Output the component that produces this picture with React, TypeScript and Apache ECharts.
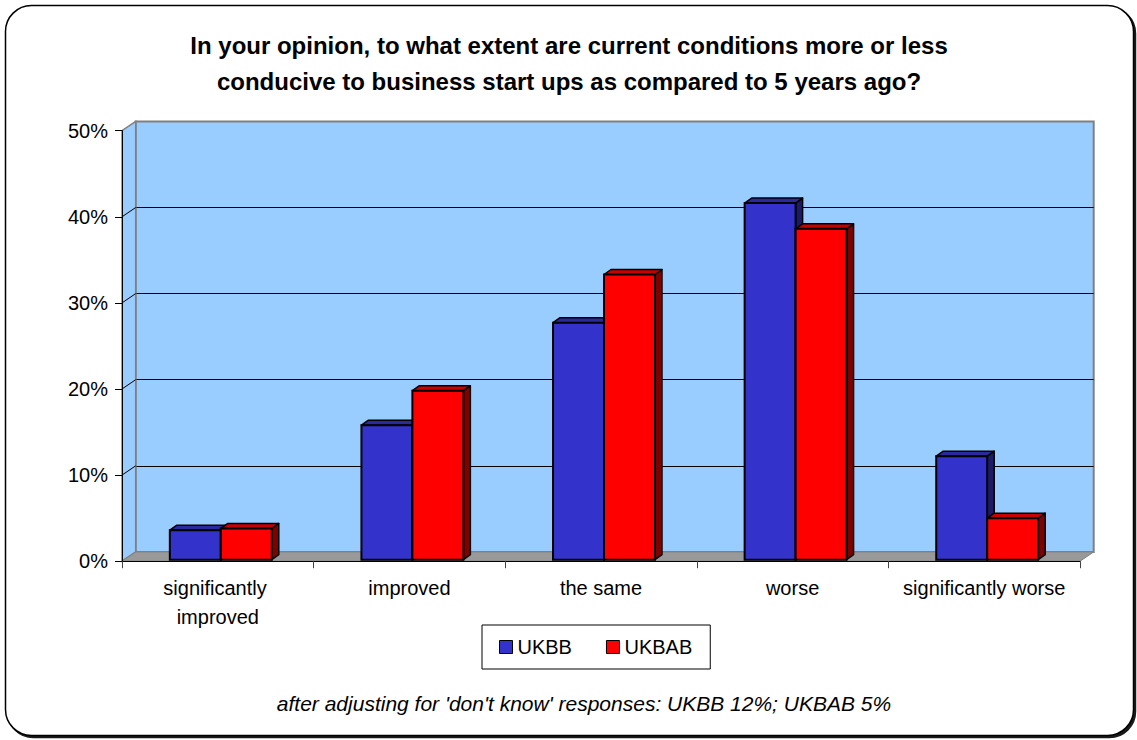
import { useEffect, useRef } from 'react';
import * as echarts from 'echarts';

// ---- data ----
const categories = ['significantly improved', 'improved', 'the same', 'worse', 'significantly worse'];
const seriesNames = ['UKBB', 'UKBAB'];
const ukbb = [3.6, 15.8, 27.7, 41.6, 12.2];
const ukbab = [3.8, 19.8, 33.3, 38.6, 5.0];
const yTicks = [0, 10, 20, 30, 40, 50];

const titleText =
  'In your opinion, to what extent are current conditions more or less\nconducive to business start ups as compared to 5 years ago?';
const footnoteText = "after adjusting for 'don't know' responses: UKBB 12%; UKBAB 5%";

// ---- style ----
const FONT = '"Liberation Sans", Arial, Helvetica, sans-serif';
const WALL = '#99ccff';
const WALL_EDGE = '#808080';
const FLOOR = '#999999';
const COLORS = [
  { front: '#3333cc', top: '#2a2a9c', side: '#1c1c66' },
  { front: '#ff0000', top: '#c80000', side: '#800000' },
];

// perspective offset of the back wall relative to the front plane
const WALL_DX = 13.7;
const WALL_DY = -9.3;
// depth of each column
const BAR_DX = 7;
const BAR_DY = -5;
const BAR_RATIO = 0.266;
const CLUSTER_SHIFT = 3;

const FRONT = { left: 122, top: 130.7, width: 958, height: 430.5 };
const BACK = { left: FRONT.left + WALL_DX, top: FRONT.top + WALL_DY, width: FRONT.width, height: FRONT.height };

function frameRenderer(params: any, api: any) {
  const cs = params.coordSys;
  const x0 = cs.x;
  const y0 = cs.y;
  const x1 = cs.x + cs.width;
  const y1 = cs.y + cs.height;
  const children: any[] = [
    {
      type: 'polygon',
      shape: { points: [[x0, y0], [x0 + WALL_DX, y0 + WALL_DY], [x0 + WALL_DX, y1 + WALL_DY], [x0, y1]] },
      style: { fill: WALL, stroke: WALL_EDGE, lineWidth: 1.5 },
    },
    {
      type: 'polygon',
      shape: { points: [[x0, y1], [x0 + WALL_DX, y1 + WALL_DY], [x1 + WALL_DX, y1 + WALL_DY], [x1, y1]] },
      style: { fill: FLOOR, stroke: WALL_EDGE, lineWidth: 1 },
    },
  ];
  yTicks.slice(1, -1).forEach((t) => {
    const y = api.coord([0, t])[1];
    children.push({
      type: 'line',
      shape: { x1: x0, y1: y, x2: x0 + WALL_DX, y2: y + WALL_DY },
      style: { stroke: '#000', lineWidth: 1 },
    });
  });
  return { type: 'group', children };
}

function barRenderer(side: number) {
  const c = COLORS[side];
  return (_params: any, api: any) => {
    const idx = api.value(0);
    const v = api.value(1);
    const base = api.coord([idx, 0]);
    const peak = api.coord([idx, v]);
    const bw = api.size([1, 0])[0] * BAR_RATIO;
    const xl = base[0] + CLUSTER_SHIFT + (side === 0 ? -bw : 0);
    const xr = xl + bw;
    const yb = base[1] - 1.5;
    const yt = peak[1];
    return {
      type: 'group',
      children: [
        {
          type: 'polygon',
          shape: { points: [[xr, yt], [xr + BAR_DX, yt + BAR_DY], [xr + BAR_DX, yb + BAR_DY], [xr, yb]] },
          style: { fill: c.side, stroke: '#000', lineWidth: 1.5, lineJoin: 'round' },
        },
        {
          type: 'polygon',
          shape: { points: [[xl, yt], [xl + BAR_DX, yt + BAR_DY], [xr + BAR_DX, yt + BAR_DY], [xr, yt]] },
          style: { fill: c.top, stroke: '#000', lineWidth: 1.5, lineJoin: 'round' },
        },
        {
          type: 'rect',
          shape: { x: xl, y: yt, width: bw, height: yb - yt },
          style: { fill: c.front, stroke: '#000', lineWidth: 2 },
        },
      ],
    };
  };
}

export default function App() {
  const ref = useRef<HTMLDivElement>(null);

  useEffect(() => {
    if (!ref.current) return;
    const chart = echarts.init(ref.current, null, { renderer: 'svg' });
    const seriesData = [ukbb, ukbab];

    chart.setOption({
      animation: false,
      backgroundColor: '#ffffff',
      textStyle: { fontFamily: FONT },
      graphic: {
        elements: [
          {
            type: 'rect',
            z: -10,
            shape: { x: 5.5, y: 5.5, width: 1128, height: 730, r: 26 },
            style: {
              fill: '#ffffff',
              stroke: '#000',
              lineWidth: 1.5,
              shadowColor: 'rgba(0,0,0,0.9)',
              shadowOffsetX: 2,
              shadowOffsetY: 2,
              shadowBlur: 0,
            },
          },
          {
            type: 'text',
            x: 569,
            y: 27,
            style: {
              text: titleText,
              font: `bold 24px ${FONT}`,
              lineHeight: 36,
              fill: '#000',
              align: 'center',
              verticalAlign: 'top',
            },
          },
          {
            type: 'text',
            x: 584,
            y: 703,
            style: {
              text: footnoteText,
              font: `italic 21px ${FONT}`,
              fill: '#000',
              align: 'center',
              verticalAlign: 'middle',
            },
          },
        ],
      },
      legend: {
        data: seriesNames.map((name) => ({ name, itemStyle: { borderColor: '#000', borderWidth: 1 } })),
        left: 482,
        top: 625,
        orient: 'horizontal',
        icon: 'rect',
        itemWidth: 13,
        itemHeight: 13,
        itemGap: 34,
        padding: [12, 18, 12, 17],
        borderColor: '#000',
        borderWidth: 1,
        backgroundColor: '#fff',
        selectedMode: false,
        textStyle: { fontSize: 20, color: '#000', fontFamily: FONT },
      },
      grid: [
        {
          ...BACK,
          show: true,
          backgroundColor: WALL,
          borderColor: WALL_EDGE,
          borderWidth: 2,
        },
        { ...FRONT },
      ],
      xAxis: [
        {
          gridIndex: 0,
          type: 'category',
          data: categories,
          axisLine: { show: false },
          axisTick: { show: false },
          axisLabel: { show: false },
          splitLine: { show: false },
        },
        {
          gridIndex: 1,
          type: 'category',
          data: categories,
          z: 3,
          axisLine: { show: true, lineStyle: { color: '#000', width: 1 } },
          axisTick: { show: true, length: 7, lineStyle: { color: '#444' } },
          axisLabel: {
            interval: 0,
            color: '#000',
            fontSize: 20,
            fontFamily: FONT,
            margin: 12,
            lineHeight: 29,
            width: 178,
            overflow: 'break',
          },
          splitLine: { show: false },
        },
      ],
      yAxis: [
        {
          gridIndex: 0,
          type: 'value',
          min: 0,
          max: 50,
          interval: 10,
          axisLine: { show: false },
          axisTick: { show: false },
          axisLabel: { show: false },
          splitLine: {
            show: true,
            lineStyle: { color: ['#808080', '#000', '#000', '#000', '#000', '#808080'], width: 1 },
          },
        },
        {
          gridIndex: 1,
          type: 'value',
          min: 0,
          max: 50,
          interval: 10,
          z: 3,
          axisLine: { show: true, lineStyle: { color: '#000', width: 1 } },
          axisTick: { show: true, length: 7, lineStyle: { color: '#000' } },
          axisLabel: { formatter: '{value}%', color: '#000', fontSize: 20, fontFamily: FONT, margin: 14 },
          splitLine: { show: false },
        },
      ],
      series: [
        {
          type: 'custom',
          name: 'frame',
          xAxisIndex: 1,
          yAxisIndex: 1,
          silent: true,
          z: 1,
          data: [[0, 0]],
          renderItem: frameRenderer,
        },
        ...seriesNames.map((name, s) => ({
          type: 'custom',
          name,
          xAxisIndex: 1,
          yAxisIndex: 1,
          z: 2,
          itemStyle: { color: COLORS[s].front, borderColor: '#000', borderWidth: 1 },
          encode: { x: 0, y: 1 },
          data: seriesData[s].map((v, i) => [i, v]),
          renderItem: barRenderer(s),
        })),
      ],
    });

    return () => chart.dispose();
  }, []);

  return (
    <div
      ref={ref}
      style={{ position: 'absolute', left: 0, top: 0, width: 1137, height: 740, background: '#fff' }}
    />
  );
}
